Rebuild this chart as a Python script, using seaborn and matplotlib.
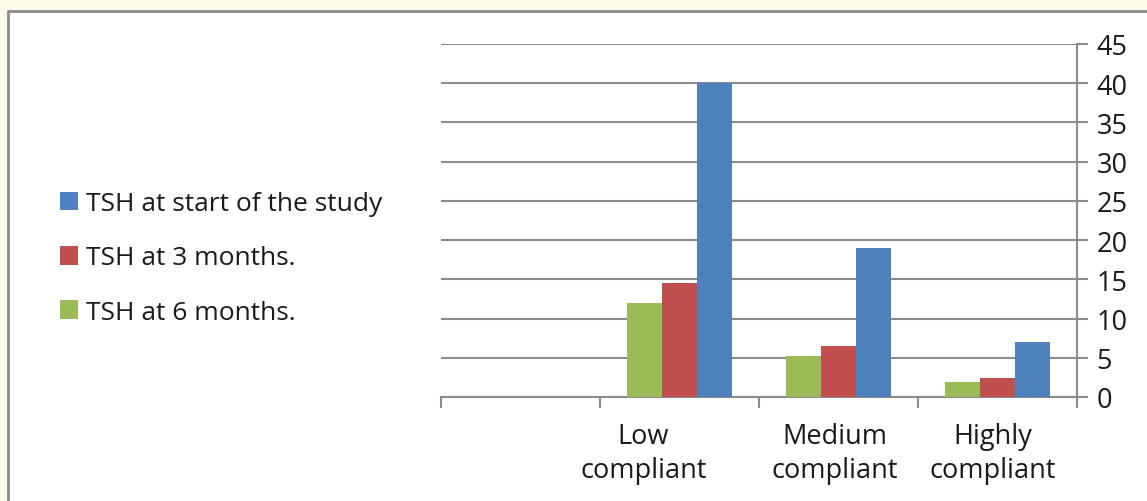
import matplotlib
matplotlib.use("Agg")
import matplotlib.pyplot as plt
import matplotlib.patches as mpatches
import matplotlib.transforms as mtransforms
import pandas as pd
import seaborn as sns

categories = [" ", "Low\ncompliant", "Medium\ncompliant", "Highly\ncompliant"]
series = ["TSH at 6 months.", "TSH at 3 months.", "TSH at start of the study"]
tsh_6m = [12.0, 5.2, 1.9]
tsh_3m = [14.5, 6.5, 2.4]
tsh_start = [40.0, 19.0, 7.0]
colors = ["#9BBB59", "#C0504D", "#4F81BD"]

sns.set_theme(style="white")
plt.rcParams["font.family"] = ["Open Sans", "DejaVu Sans"]

rows = []
for name, vals in zip(series, [tsh_6m, tsh_3m, tsh_start]):
    for cat, v in zip(categories[1:], vals):
        rows.append({"group": cat, "series": name, "TSH": v})
df = pd.DataFrame(rows)

fig = plt.figure(figsize=(11.47, 5.02), dpi=100)
fig.patch.set_facecolor("#FFFBEA")
# white panel with grey frame (top and left edges visible)
fig.patches.append(mpatches.Rectangle((8 / 1147, -0.1), 1.2, 1 - 12 / 502 + 0.1,
                                      transform=fig.transFigure, facecolor="white",
                                      edgecolor="#8C8C8C", linewidth=2, zorder=-5))

ax = fig.add_axes([441 / 1147, 1 - 398 / 502, 636 / 1147, 353 / 502])
ax.set_facecolor("none")
sns.barplot(data=df, x="group", y="TSH", hue="series", order=categories,
            hue_order=series, palette=colors, width=0.66, gap=0,
            saturation=1, linewidth=0, ax=ax, zorder=3)

ax.set_xlim(-0.5, 3.5)
ax.set_ylim(0, 45)
ax.set_yticks(range(0, 46, 5))
ax.yaxis.tick_right()
ax.grid(axis="y", color="#8C8C8C", linewidth=1.5, zorder=0)
ax.set_axisbelow(True)
for s in ["top", "left"]:
    ax.spines[s].set_visible(False)
for s in ["right", "bottom"]:
    ax.spines[s].set_color("#8C8C8C")
    ax.spines[s].set_linewidth(1.5)

ax.set_xticks([-0.5, 0.5, 1.5, 2.5, 3.5], minor=True)
ax.tick_params(axis="x", which="minor", length=8, width=1.5, color="#8C8C8C", direction="out", bottom=True)
ax.tick_params(axis="x", which="major", length=0, labelsize=19.5, pad=18, colors="#1a1a1a")
ax.tick_params(axis="y", length=8, width=1.5, color="#8C8C8C", direction="out", labelsize=19.5, pad=6, labelcolor="#1a1a1a")
ax.set_xlabel("")
ax.set_ylabel("")

# Excel-style wrapped labels sit a little left of the slot centres
shifts = [0, -36, -4, -5]
for lab, dx in zip(ax.get_xticklabels(), shifts):
    lab.set_linespacing(1.3)
    lab.set_transform(lab.get_transform() + mtransforms.ScaledTranslation(dx / 100, 0, fig.dpi_scale_trans))

handles, labels = ax.get_legend_handles_labels()
ax.legend_.remove()
fig.legend(handles[::-1], labels[::-1], loc="center left",
           bbox_to_anchor=(36 / 1147, 1 - 259 / 502), frameon=False,
           fontsize=19, handlelength=0.7, handleheight=0.7,
           handletextpad=0.3, labelspacing=1.1, labelcolor="#1a1a1a")

fig.savefig("out.png", dpi=100)
